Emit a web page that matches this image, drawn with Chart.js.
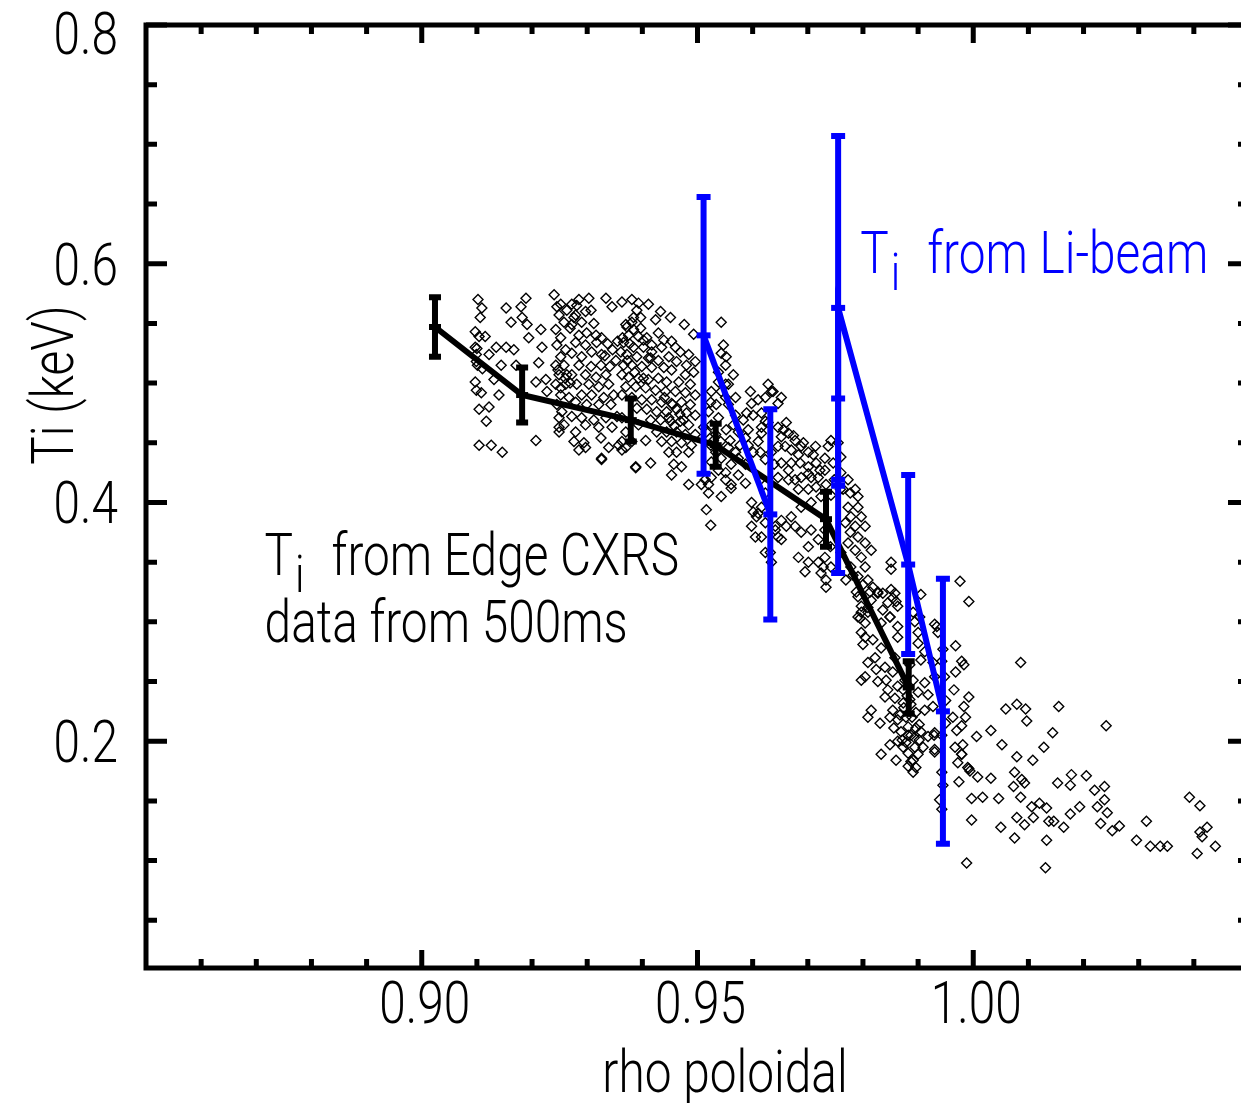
<!DOCTYPE html>
<html>
<head>
<meta charset="utf-8">
<script src="https://cdn.jsdelivr.net/npm/chart.js@4.4.0/dist/chart.umd.min.js"></script>
<style>
  html, body { margin: 0; padding: 0; overflow: hidden; background: #fff; }
</style>
</head>
<body>
<canvas id="tiChart" width="1262" height="1103"></canvas>
<script>
// ── Eixos ───────────────────────────────────────────────────────────────────
const xMajorTicks = [0.90, 0.95, 1.00];
const xMinorTicks = [0.86, 0.87, 0.88, 0.89, 0.91, 0.92, 0.93, 0.94, 0.96, 0.97, 0.98, 0.99, 1.01, 1.02, 1.03, 1.04];
const xTickLabels = ['0.90', '0.95', '1.00'];
const yMajorTicks = [0.2, 0.4, 0.6, 0.8];
const yMinorTicks = [0.05, 0.10, 0.15, 0.25, 0.30, 0.35, 0.45, 0.50, 0.55, 0.65, 0.70, 0.75];
const yTickLabels = ['0.2', '0.4', '0.6', '0.8'];

// ── Perfil médio Edge CXRS (linha preta) ────────────────────────────────────
const cxrsRho = [0.9024, 0.9182, 0.9379, 0.9533, 0.9733, 0.9883];
const cxrsTi  = [0.547, 0.490, 0.469, 0.448, 0.386, 0.245];
const cxrsErr = [0.025, 0.023, 0.018, 0.018, 0.023, 0.022];

// ── Li-beam (linha azul) ────────────────────────────────────────────────────
const liRho = [0.9511, 0.9632, 0.9755, 0.9755, 0.9882, 0.9945];
const liTi  = [0.540, 0.390, 0.414, 0.563, 0.348, 0.225];
const liErr = [0.116, 0.088, 0.073, 0.144, 0.075, 0.111];
const liGapAfter = 1; // sem segmento entre o 2º e o 3º ponto

// ── Pontos brutos Edge CXRS, 500 ms (rho, Ti) ──────────────────────────────
const edgePoints = [
  [0.9102,0.570],[0.9109,0.563],[0.9106,0.555],[0.9097,0.543],[0.9104,0.539],[0.9115,0.539],[0.9097,0.530],[0.9099,0.524],
  [0.9101,0.515],[0.9097,0.501],[0.9099,0.494],[0.9108,0.492],[0.9104,0.478],[0.9117,0.468],[0.9104,0.448],[0.9126,0.448],
  [0.9146,0.442],[0.9122,0.480],[0.9140,0.490],[0.9131,0.503],[0.9122,0.524],[0.9135,0.530],[0.9153,0.530],[0.9167,0.528],
  [0.9153,0.563],[0.9180,0.564],[0.9189,0.571],[0.9182,0.555],[0.9162,0.551],[0.9191,0.549],[0.9194,0.538],[0.9216,0.545],
  [0.9218,0.530],[0.9212,0.517],[0.9144,0.515],[0.9171,0.515],[0.9207,0.501],[0.9225,0.503],[0.9227,0.493],[0.9207,0.452],
  [0.9100,0.529],[0.9099,0.518],[0.9110,0.512],
  [0.9240,0.574],[0.9245,0.564],[0.9249,0.557],[0.9243,0.545],[0.9252,0.538],[0.9245,0.532],[0.9261,0.528],[0.9252,0.522],
  [0.9243,0.515],[0.9258,0.515],[0.9249,0.507],[0.9263,0.507],[0.9243,0.499],[0.9261,0.499],[0.9252,0.490],[0.9267,0.488],
  [0.9245,0.482],[0.9254,0.476],[0.9249,0.471],[0.9258,0.465],[0.9249,0.459],[0.9272,0.566],[0.9285,0.570],[0.9303,0.571],
  [0.9279,0.557],[0.9297,0.560],[0.9307,0.561],[0.9272,0.549],[0.9290,0.551],[0.9312,0.550],[0.9285,0.540],[0.9299,0.542],
  [0.9316,0.540],[0.9279,0.534],[0.9297,0.532],[0.9317,0.534],[0.9272,0.525],[0.9290,0.522],[0.9308,0.526],[0.9326,0.524],
  [0.9285,0.515],[0.9307,0.514],[0.9325,0.515],[0.9272,0.507],[0.9297,0.507],[0.9316,0.505],[0.9334,0.507],[0.9281,0.499],
  [0.9303,0.499],[0.9321,0.497],[0.9339,0.499],[0.9290,0.490],[0.9308,0.490],[0.9330,0.488],[0.9348,0.490],[0.9279,0.484],
  [0.9299,0.482],[0.9321,0.482],[0.9343,0.482],[0.9272,0.472],[0.9290,0.471],[0.9312,0.469],[0.9334,0.471],[0.9354,0.472],
  [0.9279,0.459],[0.9297,0.465],[0.9321,0.463],[0.9345,0.463],[0.9276,0.451],[0.9294,0.450],[0.9325,0.454],[0.9339,0.446],
  [0.9357,0.448],[0.9326,0.437],[0.9297,0.446],[0.9370,0.446],[0.9384,0.555],[0.9370,0.549],[0.9345,0.564],[0.9334,0.571],
  [0.9363,0.568],[0.9388,0.429],[0.9285,0.444],[0.9249,0.463],[0.9326,0.436],
  [0.9252,0.566],[0.9263,0.561],[0.9276,0.555],[0.9258,0.551],[0.9269,0.546],[0.9281,0.565],[0.9326,0.538],[0.9337,0.533],
  [0.9346,0.528],[0.9332,0.523],[0.9352,0.519],[0.9341,0.514],[0.9355,0.535],[0.9247,0.511],[0.9260,0.504],[0.9269,0.500],
  [0.9252,0.496],
  [0.9381,0.570],[0.9393,0.567],[0.9390,0.561],[0.9397,0.555],[0.9424,0.553],[0.9381,0.551],[0.9372,0.547],[0.9384,0.545],
  [0.9397,0.546],[0.9375,0.540],[0.9393,0.539],[0.9408,0.538],[0.9429,0.542],[0.9439,0.536],[0.9453,0.535],[0.9366,0.534],
  [0.9384,0.530],[0.9402,0.530],[0.9417,0.526],[0.9435,0.530],[0.9460,0.530],[0.9469,0.526],[0.9484,0.524],[0.9361,0.526],
  [0.9372,0.524],[0.9390,0.522],[0.9415,0.521],[0.9429,0.519],[0.9448,0.522],[0.9462,0.518],[0.9480,0.515],[0.9496,0.518],
  [0.9366,0.515],[0.9381,0.515],[0.9399,0.514],[0.9417,0.513],[0.9439,0.513],[0.9453,0.511],[0.9478,0.507],[0.9493,0.509],
  [0.9363,0.507],[0.9375,0.505],[0.9393,0.504],[0.9411,0.503],[0.9429,0.504],[0.9444,0.501],[0.9466,0.501],[0.9487,0.499],
  [0.9370,0.497],[0.9388,0.497],[0.9406,0.496],[0.9424,0.494],[0.9442,0.493],[0.9460,0.493],[0.9478,0.492],[0.9496,0.490],
  [0.9363,0.490],[0.9381,0.488],[0.9399,0.486],[0.9417,0.486],[0.9435,0.484],[0.9453,0.483],[0.9471,0.484],[0.9487,0.482],
  [0.9390,0.479],[0.9408,0.478],[0.9426,0.476],[0.9444,0.476],[0.9462,0.478],[0.9480,0.475],[0.9496,0.473],[0.9363,0.471],
  [0.9415,0.469],[0.9433,0.469],[0.9451,0.468],[0.9469,0.468],[0.9484,0.465],[0.9393,0.465],[0.9370,0.459],[0.9426,0.459],
  [0.9444,0.459],[0.9462,0.459],[0.9478,0.457],[0.9496,0.457],[0.9363,0.451],[0.9381,0.451],[0.9406,0.452],[0.9435,0.451],
  [0.9453,0.451],[0.9471,0.450],[0.9489,0.448],[0.9363,0.444],[0.9448,0.442],[0.9462,0.442],[0.9484,0.442],[0.9388,0.430],
  [0.9415,0.433],[0.9457,0.432],[0.9471,0.430],[0.9453,0.423],[0.9484,0.415],[0.9507,0.415],
  [0.9364,0.538],[0.9377,0.533],[0.9402,0.536],[0.9411,0.521],[0.9386,0.509],[0.9402,0.504],[0.9373,0.519],[0.9417,0.532],
  [0.9440,0.488],[0.9455,0.482],[0.9468,0.474],[0.9448,0.471],[0.9475,0.469],[0.9458,0.464],[0.9411,0.566],[0.9433,0.560],
  [0.9451,0.555],[0.9476,0.549],[0.9493,0.541],
  [0.9543,0.551],[0.9547,0.532],[0.9543,0.525],[0.9552,0.522],[0.9551,0.515],[0.9538,0.509],[0.9538,0.501],[0.9551,0.499],
  [0.9543,0.493],[0.9525,0.493],[0.9524,0.484],[0.9534,0.482],[0.9520,0.476],[0.9538,0.471],[0.9525,0.465],[0.9516,0.459],
  [0.9533,0.457],[0.9542,0.451],[0.9524,0.448],[0.9533,0.442],[0.9543,0.437],[0.9525,0.434],[0.9538,0.427],[0.9551,0.425],
  [0.9525,0.421],[0.9520,0.415],[0.9569,0.442],[0.9556,0.446],[0.9561,0.432],[0.9574,0.437],[0.9587,0.432],[0.9574,0.423],
  [0.9561,0.415],[0.9596,0.493],[0.9610,0.486],[0.9628,0.499],[0.9634,0.493],[0.9598,0.483],[0.9589,0.475],[0.9601,0.473],
  [0.9616,0.463],[0.9623,0.468],[0.9610,0.451],[0.9592,0.448],[0.9601,0.442],[0.9587,0.454],[0.9574,0.459],[0.9565,0.465],
  [0.9569,0.473],[0.9556,0.482],[0.9569,0.488],[0.9556,0.499],[0.9565,0.507],[0.9551,0.488],[0.9514,0.419],[0.9520,0.408],
  [0.9524,0.381],[0.9516,0.394],[0.9543,0.405],[0.9561,0.412],[0.9551,0.419],[0.9587,0.416],[0.9598,0.400],[0.9607,0.388],
  [0.9598,0.380],[0.9605,0.371],[0.9623,0.358],[0.9634,0.350],[0.9652,0.369],[0.9610,0.391],[0.9641,0.377],[0.9601,0.392],
  [0.9511,0.463],[0.9529,0.452],[0.9552,0.461],[0.9577,0.448],[0.9592,0.461],[0.9583,0.469],[0.9559,0.452],
  [0.9637,0.493],[0.9652,0.488],[0.9646,0.483],[0.9623,0.488],[0.9616,0.475],[0.9628,0.467],[0.9646,0.463],[0.9661,0.467],
  [0.9665,0.458],[0.9652,0.455],[0.9677,0.452],[0.9688,0.447],[0.9701,0.442],[0.9714,0.447],[0.9670,0.444],[0.9659,0.447],
  [0.9646,0.447],[0.9634,0.442],[0.9623,0.436],[0.9652,0.433],[0.9670,0.433],[0.9686,0.433],[0.9701,0.430],[0.9715,0.433],
  [0.9731,0.437],[0.9706,0.421],[0.9688,0.421],[0.9677,0.419],[0.9665,0.419],[0.9646,0.421],[0.9683,0.411],[0.9701,0.411],
  [0.9715,0.413],[0.9724,0.405],[0.9706,0.400],[0.9688,0.396],[0.9670,0.388],[0.9652,0.385],[0.9641,0.380],[0.9623,0.383],
  [0.9616,0.371],[0.9646,0.371],[0.9661,0.380],[0.9677,0.380],[0.9688,0.375],[0.9706,0.377],[0.9719,0.369],[0.9701,0.363],
  [0.9683,0.354],[0.9701,0.350],[0.9695,0.342],[0.9719,0.350],[0.9724,0.341],[0.9733,0.329],[0.9632,0.358],[0.9616,0.396],
  [0.9614,0.419],[0.9623,0.408],[0.9614,0.442],[0.9616,0.458],
  [0.9656,0.461],[0.9674,0.456],[0.9692,0.450],[0.9710,0.440],[0.9722,0.427],[0.9683,0.440],[0.9665,0.427],[0.9701,0.424],
  [0.9639,0.432],[0.9719,0.421],[0.9733,0.415],[0.9748,0.419],[0.9759,0.411],[0.9742,0.406],
  [0.9742,0.452],[0.9737,0.447],[0.9755,0.450],[0.9760,0.438],[0.9746,0.433],[0.9731,0.427],[0.9760,0.425],[0.9773,0.419],
  [0.9786,0.411],[0.9791,0.405],[0.9777,0.408],[0.9764,0.411],[0.9773,0.396],[0.9791,0.396],[0.9797,0.388],[0.9778,0.388],
  [0.9768,0.383],[0.9786,0.380],[0.9804,0.380],[0.9777,0.375],[0.9791,0.371],[0.9804,0.366],[0.9815,0.360],[0.9773,0.366],
  [0.9786,0.360],[0.9797,0.354],[0.9778,0.346],[0.9804,0.346],[0.9760,0.358],[0.9731,0.377],[0.9741,0.363],[0.9731,0.354],
  [0.9728,0.346],[0.9733,0.335],[0.9742,0.346],[0.9791,0.338],[0.9809,0.335],[0.9818,0.329],[0.9827,0.324],[0.9851,0.327],
  [0.9854,0.320],[0.9791,0.321],[0.9797,0.313],[0.9809,0.308],[0.9791,0.304],[0.9804,0.299],[0.9836,0.310],[0.9849,0.304],
  [0.9863,0.313],[0.9851,0.350],[0.9851,0.344],[0.9782,0.339],[0.9800,0.331],[0.9813,0.325],[0.9788,0.325],[0.9769,0.335],
  [0.9797,0.308],[0.9809,0.312],[0.9795,0.303],[0.9815,0.318],[0.9827,0.325],[0.9836,0.324],[0.9858,0.324],[0.9860,0.317],
  [0.9845,0.316],[0.9849,0.304],[0.9833,0.299],[0.9797,0.291],[0.9804,0.287],[0.9800,0.281],[0.9818,0.285],[0.9833,0.278],
  [0.9863,0.296],[0.9863,0.287],[0.9894,0.300],[0.9903,0.304],[0.9900,0.291],[0.9905,0.323],[0.9891,0.308],[0.9900,0.282],
  [0.9912,0.275],[0.9905,0.268],[0.9885,0.264],[0.9809,0.266],[0.9822,0.270],[0.9824,0.260],[0.9840,0.262],[0.9858,0.270],
  [0.9854,0.258],[0.9842,0.251],[0.9797,0.251],[0.9804,0.254],[0.9827,0.250],[0.9845,0.243],[0.9863,0.246],[0.9876,0.251],
  [0.9891,0.251],[0.9912,0.249],[0.9900,0.241],[0.9918,0.239],[0.9858,0.236],[0.9873,0.232],[0.9840,0.237],[0.9887,0.231],
  [0.9896,0.224],[0.9912,0.226],[0.9815,0.226],[0.9809,0.220],[0.9831,0.215],[0.9849,0.220],[0.9863,0.218],[0.9878,0.220],
  [0.9882,0.212],[0.9869,0.208],[0.9887,0.205],[0.9905,0.208],[0.9918,0.204],[0.9930,0.207],[0.9849,0.197],[0.9863,0.200],
  [0.9878,0.199],[0.9894,0.195],[0.9909,0.195],[0.9833,0.189],[0.9882,0.190],[0.9900,0.189],[0.9887,0.183],[0.9882,0.179],
  [0.9896,0.178],[0.9891,0.174],[0.9930,0.193],[0.9963,0.220],[0.9930,0.298],[0.9936,0.291],[0.9873,0.243],[0.9880,0.238],
  [0.9885,0.235],[0.9874,0.228],[0.9889,0.220],[0.9871,0.201],[0.9893,0.203],[0.9902,0.214],
  [0.9854,0.226],[0.9867,0.222],[0.9856,0.211],[0.9882,0.205],[0.9896,0.211],[0.9873,0.195],[0.9891,0.184],[0.9902,0.201],
  [0.9860,0.184],
  [0.9968,0.280],[0.9979,0.267],[0.9983,0.264],[0.9968,0.258],[0.9965,0.243],[0.9992,0.237],[0.9983,0.229],[0.9986,0.220],
  [0.9979,0.213],[0.9970,0.209],[0.9967,0.195],[0.9979,0.189],[0.9972,0.182],[0.9990,0.178],[0.9974,0.166],[0.9945,0.277],
  [0.9943,0.267],[0.9948,0.254],[0.9950,0.234],[0.9950,0.215],[0.9943,0.205],[0.9943,0.174],[0.9945,0.163],[0.9939,0.151],
  [0.9943,0.143],[0.9934,0.296],[0.9927,0.266],[0.9930,0.254],[0.9927,0.229],[0.9929,0.205],[0.9930,0.191],[0.9976,0.334],
  [0.9992,0.317],[1.0086,0.266],[1.0059,0.227],[1.0079,0.231],[1.0095,0.227],[1.0097,0.217],[1.0155,0.229],[1.0241,0.213],
  [1.0032,0.209],[1.0006,0.204],[1.0052,0.197],[1.0144,0.207],[1.0128,0.195],[1.0079,0.187],[1.0108,0.184],[1.0075,0.174],
  [1.0032,0.169],[1.0008,0.170],[0.9994,0.175],[0.9981,0.197],[0.9979,0.189],[0.9992,0.177],[1.0088,0.168],[1.0073,0.162],
  [1.0093,0.165],[1.0153,0.165],[1.0178,0.172],[1.0176,0.163],[1.0205,0.171],[1.0220,0.159],[1.0238,0.162],[1.0238,0.151],
  [1.0225,0.145],[1.0243,0.140],[1.0231,0.131],[1.0046,0.152],[1.0086,0.153],[0.9997,0.152],[1.0017,0.153],[0.9997,0.134],
  [1.0050,0.128],[1.0079,0.136],[1.0093,0.130],[1.0109,0.136],[1.0106,0.145],[1.0120,0.148],[1.0133,0.144],[1.0137,0.133],
  [1.0146,0.133],[1.0164,0.128],[1.0176,0.139],[1.0193,0.145],[1.0252,0.125],[1.0265,0.129],[1.0314,0.133],[1.0296,0.117],
  [1.0321,0.112],[1.0339,0.112],[1.0352,0.112],[1.0392,0.153],[1.0411,0.146],[1.0424,0.128],[1.0411,0.124],[1.0415,0.120],
  [1.0406,0.106],[1.0439,0.112],[1.0075,0.119],[1.0133,0.117],[0.9988,0.098],[1.0131,0.094]
];

// ── Estilo ──────────────────────────────────────────────────────────────────
const FONT = 'Roboto, "DejaVu Sans Condensed", sans-serif';
const FONT_SIZE = 59;
const SQUEEZE = 0.81; // a fonte do original é condensada
const BLUE = '#0000ff';
const BLACK = '#000000';

// Texto comprimido na horizontal
function squeezedText(ctx, text, x, y, align, size = FONT_SIZE) {
  ctx.save();
  ctx.translate(x, y);
  ctx.scale(SQUEEZE, 1);
  ctx.font = `300 ${size}px ${FONT}`;
  ctx.textAlign = align;
  ctx.textBaseline = 'alphabetic';
  ctx.fillText(text, 0, 0);
  const w = ctx.measureText(text).width * SQUEEZE;
  ctx.restore();
  return w;
}

function drawErrorBars(chart, rho, ti, err, color, barWidth, capHalf) {
  const { ctx, scales: { x, y } } = chart;
  ctx.save();
  ctx.strokeStyle = color;
  ctx.lineWidth = barWidth;
  ctx.beginPath();
  rho.forEach((r, i) => {
    const px = x.getPixelForValue(r);
    const top = y.getPixelForValue(ti[i] + err[i]);
    const bot = y.getPixelForValue(ti[i] - err[i]);
    ctx.moveTo(px, top); ctx.lineTo(px, bot);
    ctx.moveTo(px - capHalf, top); ctx.lineTo(px + capHalf, top);
    ctx.moveTo(px - capHalf, bot); ctx.lineTo(px + capHalf, bot);
  });
  ctx.stroke();
  ctx.restore();
}

// "T" com índice "i" seguido do resto da legenda
function drawTiLabel(ctx, x, y, rest, color) {
  ctx.fillStyle = color;
  const tw = squeezedText(ctx, 'T', x, y, 'left');
  squeezedText(ctx, 'i', x + tw + 2, y + 17, 'left', 52);
  squeezedText(ctx, rest, x + 67, y, 'left');
}

const framePlugin = {
  id: 'frame',
  afterDatasetDraw(chart, args) {
    if (args.index === 0) drawErrorBars(chart, liRho, liTi, liErr, BLUE, 6, 7);
    if (args.index === 1) drawErrorBars(chart, cxrsRho, cxrsTi, cxrsErr, BLACK, 6, 6);
  },
  afterDraw(chart) {
    const { ctx, chartArea: a, scales: { x, y } } = chart;
    ctx.save();
    ctx.strokeStyle = BLACK;
    ctx.lineWidth = 5;
    ctx.strokeRect(a.left, a.top, a.right - a.left, a.bottom - a.top);

    ctx.beginPath();
    const tickX = (v, len) => {
      const p = x.getPixelForValue(v);
      ctx.moveTo(p, a.bottom); ctx.lineTo(p, a.bottom - len);
      ctx.moveTo(p, a.top); ctx.lineTo(p, a.top + len);
    };
    const tickY = (v, len) => {
      const p = y.getPixelForValue(v);
      ctx.moveTo(a.left, p); ctx.lineTo(a.left + len, p);
      ctx.moveTo(a.right, p); ctx.lineTo(a.right - len, p);
    };
    xMajorTicks.forEach(v => tickX(v, 18));
    xMinorTicks.forEach(v => tickX(v, 9));
    yMajorTicks.forEach(v => tickY(v, 21));
    yMinorTicks.forEach(v => tickY(v, 11));
    ctx.stroke();

    // Rótulos dos ticks
    ctx.fillStyle = BLACK;
    xMajorTicks.forEach((v, i) => squeezedText(ctx, xTickLabels[i], x.getPixelForValue(v) + 3, a.bottom + 55, 'center'));
    yMajorTicks.forEach((v, i) => {
      const base = Math.max(y.getPixelForValue(v) + 21, 54);
      squeezedText(ctx, yTickLabels[i], a.left - 28, base, 'right');
    });

    // Títulos dos eixos
    squeezedText(ctx, 'rho poloidal', 725, 1092, 'center');
    ctx.save();
    ctx.translate(73, 385);
    ctx.rotate(-Math.PI / 2);
    squeezedText(ctx, 'Ti (keV)', 0, 0, 'center');
    ctx.restore();

    // Legendas dentro do gráfico
    const lx = x.getPixelForValue(0.8715);
    drawTiLabel(ctx, lx, y.getPixelForValue(0.339), 'from Edge CXRS', BLACK);
    squeezedText(ctx, 'data from 500ms', lx, y.getPixelForValue(0.283), 'left');
    drawTiLabel(ctx, x.getPixelForValue(0.9795), y.getPixelForValue(0.592), 'from Li-beam', BLUE);
    ctx.restore();
  }
};

new Chart(document.getElementById('tiChart'), {
  type: 'scatter',
  data: {
    datasets: [
      {
        label: 'Li-beam',
        type: 'line',
        data: liRho.map((r, i) => ({ x: r, y: liTi[i] })),
        borderColor: BLUE,
        borderWidth: 6,
        segment: { borderColor: c => (c.p0DataIndex === liGapAfter ? 'rgba(0,0,0,0)' : BLUE) },
        pointStyle: 'line',
        pointRadius: 7,
        pointBorderWidth: 6,
        pointBorderColor: BLUE,
        tension: 0,
        fill: false,
      },
      {
        label: 'Edge CXRS',
        type: 'line',
        data: cxrsRho.map((r, i) => ({ x: r, y: cxrsTi[i] })),
        borderColor: BLACK,
        borderWidth: 6,
        pointStyle: 'line',
        pointRadius: 6,
        pointBorderWidth: 6,
        pointBorderColor: BLACK,
        tension: 0,
        fill: false,
      },
      {
        label: 'raw',
        data: edgePoints.map(p => ({ x: p[0], y: p[1] })),
        pointStyle: 'rectRot',
        pointRadius: 5,
        borderWidth: 1.4,
        borderColor: BLACK,
        backgroundColor: 'rgba(0,0,0,0)',
        showLine: false,
      },
    ],
  },
  options: {
    responsive: false,
    animation: false,
    devicePixelRatio: 1,
    events: [],
    layout: { padding: { left: 0, top: 25, right: 10, bottom: 0 } },
    plugins: { legend: { display: false }, tooltip: { enabled: false } },
    scales: {
      x: {
        type: 'linear',
        min: 0.85,
        max: 1.05,
        grid: { display: false, drawTicks: false },
        border: { display: false },
        ticks: { display: false },
        afterFit: s => { s.height = 135; },
      },
      y: {
        type: 'linear',
        min: 0.01,
        max: 0.8,
        grid: { display: false, drawTicks: false },
        border: { display: false },
        ticks: { display: false },
        afterFit: s => { s.width = 146; },
      },
    },
  },
  plugins: [framePlugin],
});
</script>
</body>
</html>
